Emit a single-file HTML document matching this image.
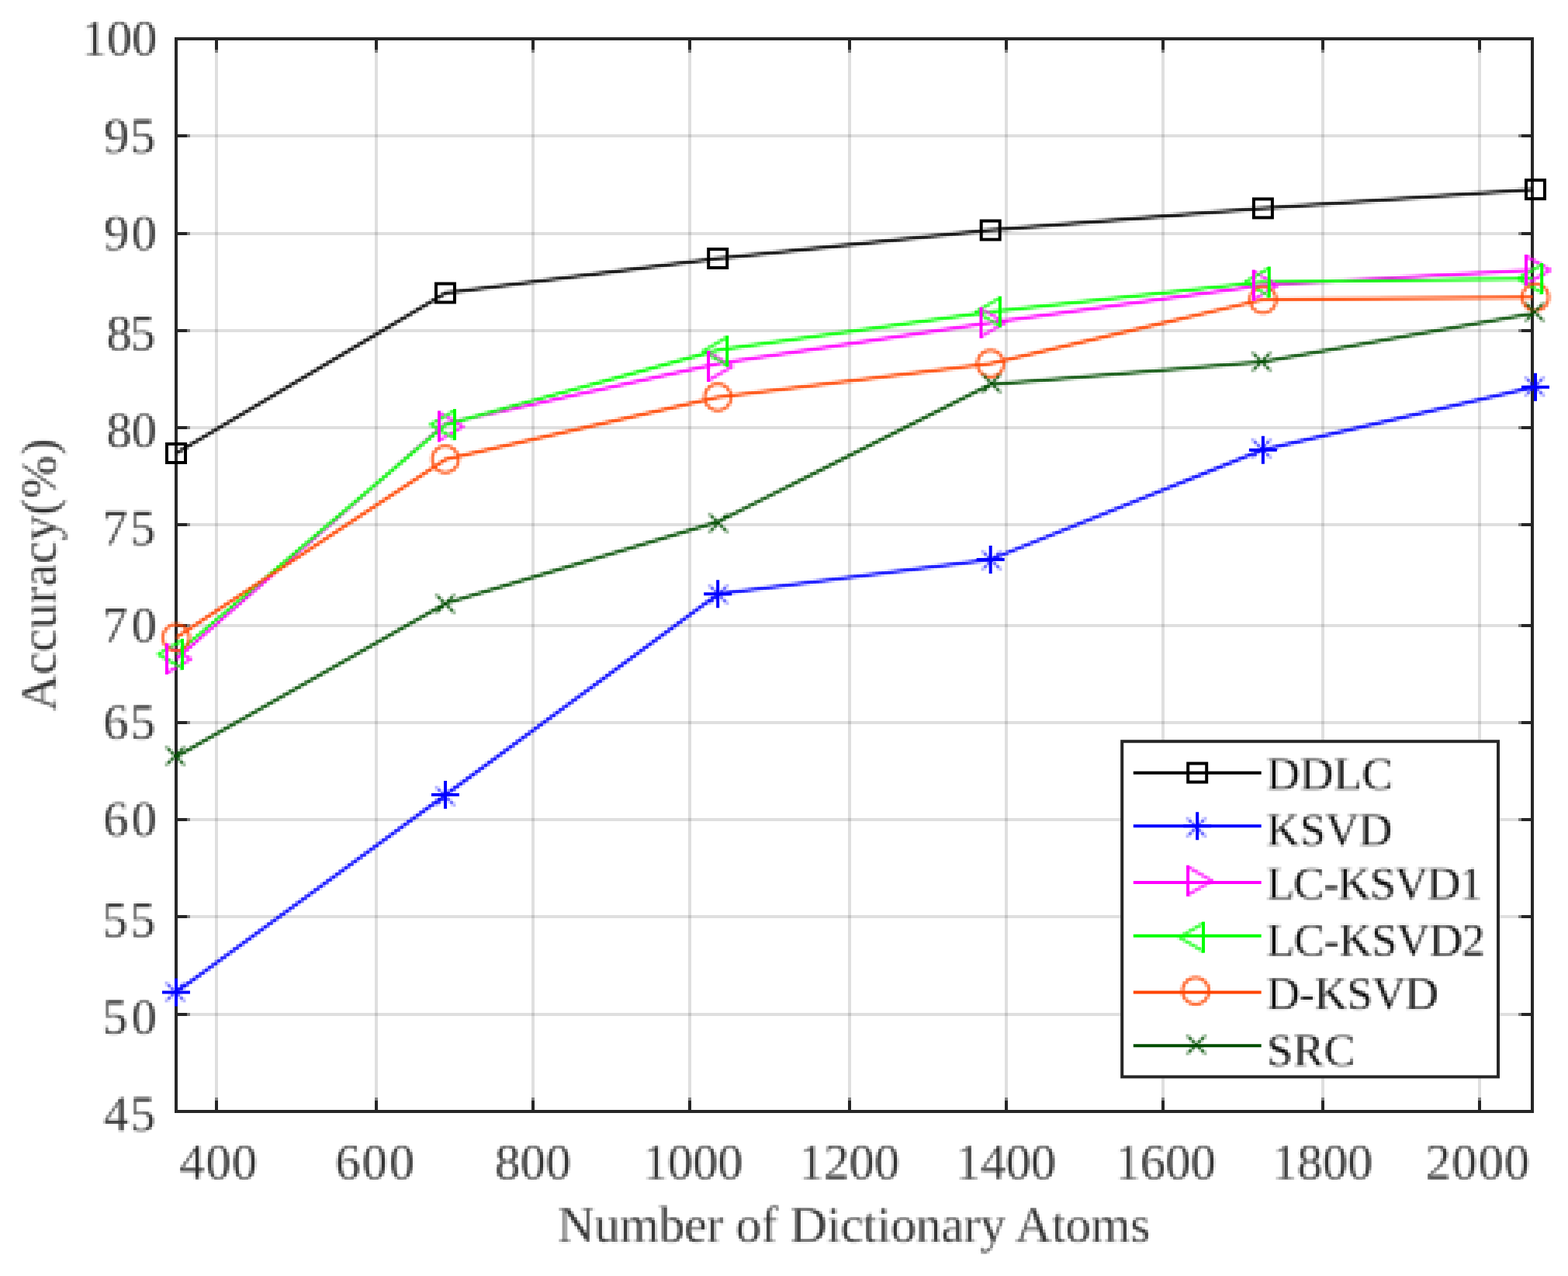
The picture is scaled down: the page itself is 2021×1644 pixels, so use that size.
<!DOCTYPE html>
<html lang="en"><head><meta charset="utf-8"><title>Accuracy vs Number of Dictionary Atoms</title>
<style>
html,body{margin:0;padding:0;background:#fff;}
body{width:2021px;height:1644px;overflow:hidden;}
svg{display:block;font-family:"Liberation Serif","DejaVu Serif",serif;}
.tk{font-size:65px;fill:#262626;}
.lb{font-size:66px;fill:#262626;}
.lg{font-size:60px;fill:#000;}
text{stroke:#fff;stroke-width:1.0px;stroke-opacity:0.75;paint-order:fill stroke;}
</style></head><body>
<svg width="2021" height="1644" viewBox="0 0 2021 1644">
<rect width="2021" height="1644" fill="#fff"/>
<defs><filter id="soft" x="0" y="0" width="2021" height="1644" filterUnits="userSpaceOnUse" color-interpolation-filters="sRGB">
<feGaussianBlur in="SourceGraphic" stdDeviation="1.2" result="b"/>
<feFlood x="1" y="1" width="2" height="2" flood-color="#000" result="f"/>
<feComposite in="f" in2="f" operator="over" x="0" y="0" width="4" height="4" result="cell"/>
<feTile in="cell" x="0" y="0" width="2021" height="1644" result="grid"/>
<feComposite in="b" in2="grid" operator="in" result="samp"/>
<feMorphology in="samp" operator="dilate" radius="1"/>
</filter></defs>
<g stroke="#262626" stroke-opacity="0.15" stroke-width="4">
<line x1="279" y1="52" x2="279" y2="1430"/>
<line x1="485" y1="52" x2="485" y2="1430"/>
<line x1="687" y1="52" x2="687" y2="1430"/>
<line x1="889" y1="52" x2="889" y2="1430"/>
<line x1="1095" y1="52" x2="1095" y2="1430"/>
<line x1="1297" y1="52" x2="1297" y2="1430"/>
<line x1="1499" y1="52" x2="1499" y2="1430"/>
<line x1="1705" y1="52" x2="1705" y2="1430"/>
<line x1="1907" y1="52" x2="1907" y2="1430"/>
<line x1="229" y1="175" x2="1973" y2="175"/>
<line x1="229" y1="301" x2="1973" y2="301"/>
<line x1="229" y1="426" x2="1973" y2="426"/>
<line x1="229" y1="551" x2="1973" y2="551"/>
<line x1="229" y1="676" x2="1973" y2="676"/>
<line x1="229" y1="806" x2="1973" y2="806"/>
<line x1="229" y1="931" x2="1973" y2="931"/>
<line x1="229" y1="1056" x2="1973" y2="1056"/>
<line x1="229" y1="1181" x2="1973" y2="1181"/>
<line x1="229" y1="1307" x2="1973" y2="1307"/>
</g>
<g stroke="#262626" stroke-width="4" fill="none">
<rect x="227" y="50" width="1748" height="1382"/>
<line x1="279" y1="50" x2="279" y2="64"/><line x1="279" y1="1432" x2="279" y2="1418"/>
<line x1="279" y1="64" x2="279" y2="68" stroke="#808080"/><line x1="279" y1="1418" x2="279" y2="1414" stroke="#808080"/>
<line x1="485" y1="50" x2="485" y2="64"/><line x1="485" y1="1432" x2="485" y2="1418"/>
<line x1="485" y1="64" x2="485" y2="68" stroke="#808080"/><line x1="485" y1="1418" x2="485" y2="1414" stroke="#808080"/>
<line x1="687" y1="50" x2="687" y2="64"/><line x1="687" y1="1432" x2="687" y2="1418"/>
<line x1="687" y1="64" x2="687" y2="68" stroke="#808080"/><line x1="687" y1="1418" x2="687" y2="1414" stroke="#808080"/>
<line x1="889" y1="50" x2="889" y2="64"/><line x1="889" y1="1432" x2="889" y2="1418"/>
<line x1="889" y1="64" x2="889" y2="68" stroke="#808080"/><line x1="889" y1="1418" x2="889" y2="1414" stroke="#808080"/>
<line x1="1095" y1="50" x2="1095" y2="64"/><line x1="1095" y1="1432" x2="1095" y2="1418"/>
<line x1="1095" y1="64" x2="1095" y2="68" stroke="#808080"/><line x1="1095" y1="1418" x2="1095" y2="1414" stroke="#808080"/>
<line x1="1297" y1="50" x2="1297" y2="64"/><line x1="1297" y1="1432" x2="1297" y2="1418"/>
<line x1="1297" y1="64" x2="1297" y2="68" stroke="#808080"/><line x1="1297" y1="1418" x2="1297" y2="1414" stroke="#808080"/>
<line x1="1499" y1="50" x2="1499" y2="64"/><line x1="1499" y1="1432" x2="1499" y2="1418"/>
<line x1="1499" y1="64" x2="1499" y2="68" stroke="#808080"/><line x1="1499" y1="1418" x2="1499" y2="1414" stroke="#808080"/>
<line x1="1705" y1="50" x2="1705" y2="64"/><line x1="1705" y1="1432" x2="1705" y2="1418"/>
<line x1="1705" y1="64" x2="1705" y2="68" stroke="#808080"/><line x1="1705" y1="1418" x2="1705" y2="1414" stroke="#808080"/>
<line x1="1907" y1="50" x2="1907" y2="64"/><line x1="1907" y1="1432" x2="1907" y2="1418"/>
<line x1="1907" y1="64" x2="1907" y2="68" stroke="#808080"/><line x1="1907" y1="1418" x2="1907" y2="1414" stroke="#808080"/>
<line x1="227" y1="175" x2="241" y2="175"/><line x1="1975" y1="175" x2="1961" y2="175"/>
<line x1="241" y1="175" x2="245" y2="175" stroke="#808080"/><line x1="1961" y1="175" x2="1957" y2="175" stroke="#808080"/>
<line x1="227" y1="301" x2="241" y2="301"/><line x1="1975" y1="301" x2="1961" y2="301"/>
<line x1="241" y1="301" x2="245" y2="301" stroke="#808080"/><line x1="1961" y1="301" x2="1957" y2="301" stroke="#808080"/>
<line x1="227" y1="426" x2="241" y2="426"/><line x1="1975" y1="426" x2="1961" y2="426"/>
<line x1="241" y1="426" x2="245" y2="426" stroke="#808080"/><line x1="1961" y1="426" x2="1957" y2="426" stroke="#808080"/>
<line x1="227" y1="551" x2="241" y2="551"/><line x1="1975" y1="551" x2="1961" y2="551"/>
<line x1="241" y1="551" x2="245" y2="551" stroke="#808080"/><line x1="1961" y1="551" x2="1957" y2="551" stroke="#808080"/>
<line x1="227" y1="676" x2="241" y2="676"/><line x1="1975" y1="676" x2="1961" y2="676"/>
<line x1="241" y1="676" x2="245" y2="676" stroke="#808080"/><line x1="1961" y1="676" x2="1957" y2="676" stroke="#808080"/>
<line x1="227" y1="806" x2="241" y2="806"/><line x1="1975" y1="806" x2="1961" y2="806"/>
<line x1="241" y1="806" x2="245" y2="806" stroke="#808080"/><line x1="1961" y1="806" x2="1957" y2="806" stroke="#808080"/>
<line x1="227" y1="931" x2="241" y2="931"/><line x1="1975" y1="931" x2="1961" y2="931"/>
<line x1="241" y1="931" x2="245" y2="931" stroke="#808080"/><line x1="1961" y1="931" x2="1957" y2="931" stroke="#808080"/>
<line x1="227" y1="1056" x2="241" y2="1056"/><line x1="1975" y1="1056" x2="1961" y2="1056"/>
<line x1="241" y1="1056" x2="245" y2="1056" stroke="#808080"/><line x1="1961" y1="1056" x2="1957" y2="1056" stroke="#808080"/>
<line x1="227" y1="1181" x2="241" y2="1181"/><line x1="1975" y1="1181" x2="1961" y2="1181"/>
<line x1="241" y1="1181" x2="245" y2="1181" stroke="#808080"/><line x1="1961" y1="1181" x2="1957" y2="1181" stroke="#808080"/>
<line x1="227" y1="1307" x2="241" y2="1307"/><line x1="1975" y1="1307" x2="1961" y2="1307"/>
<line x1="241" y1="1307" x2="245" y2="1307" stroke="#808080"/><line x1="1961" y1="1307" x2="1957" y2="1307" stroke="#808080"/>
</g>
<clipPath id="axclip"><rect x="227" y="50" width="1748" height="1382"/></clipPath>
<g filter="url(#soft)">
<g fill="none" stroke-width="3.5" stroke-linejoin="round" clip-path="url(#axclip)">
<polyline points="227,584 574.5,377.5 925.5,333 1276.5,296.6 1627,268.4 1977,244.1" stroke="#000000"/>
<polyline points="227,1278.4 574.5,1024 925.5,765.3 1276.5,721 1627,579.7 1977,498.7" stroke="#0000ff"/>
<polyline points="227,849 574.5,545.5 925.5,468.5 1276.5,415.7 1627,367.6 1977,348" stroke="#ff00ff"/>
<polyline points="227,843 574.5,547 925.5,451 1276.5,401.8 1627,363.5 1977,359" stroke="#00ff00"/>
<polyline points="227,821.5 574.5,591.8 925.5,511.7 1276.5,468.5 1627,386.1 1977,383" stroke="#ff4500"/>
<polyline points="227,975 574.5,777.4 925.5,672.3 1276.5,495.4 1627,466.2 1977,403.6" stroke="#004d00"/>
</g>
<path d="M214.5 1266.5L237.5 1289.5M214.5 1289.5L237.5 1266.5" stroke="#0000ff" stroke-width="2.4" stroke-opacity="0.8" fill="none"/>
<path d="M562.5 1014.5L585.5 1037.5M562.5 1037.5L585.5 1014.5" stroke="#0000ff" stroke-width="2.4" stroke-opacity="0.8" fill="none"/>
<path d="M914.5 754.5L937.5 777.5M914.5 777.5L937.5 754.5" stroke="#0000ff" stroke-width="2.4" stroke-opacity="0.8" fill="none"/>
<path d="M1266.5 710.5L1289.5 733.5M1266.5 733.5L1289.5 710.5" stroke="#0000ff" stroke-width="2.4" stroke-opacity="0.8" fill="none"/>
<path d="M1614.5 566.5L1637.5 589.5M1614.5 589.5L1637.5 566.5" stroke="#0000ff" stroke-width="2.4" stroke-opacity="0.8" fill="none"/>
<path d="M1966.5 486.5L1989.5 509.5M1966.5 509.5L1989.5 486.5" stroke="#0000ff" stroke-width="2.4" stroke-opacity="0.8" fill="none"/>
<path d="M215.0 831.0L246.0 849.0L215.0 867.0" stroke="#ff00ff" stroke-width="3.2" stroke-opacity="0.85" fill="none" stroke-linejoin="round"/>
<path d="M566.0 531.4L597.0 549.4L566.0 567.4" stroke="#ff00ff" stroke-width="3.2" stroke-opacity="0.85" fill="none" stroke-linejoin="round"/>
<path d="M913.1 454.0L944.1 472.0L913.1 490.0" stroke="#ff00ff" stroke-width="3.2" stroke-opacity="0.85" fill="none" stroke-linejoin="round"/>
<path d="M1264.5 397.7L1295.5 415.7L1264.5 433.7" stroke="#ff00ff" stroke-width="3.2" stroke-opacity="0.85" fill="none" stroke-linejoin="round"/>
<path d="M1615.8 349.6L1646.8 367.6L1615.8 385.6" stroke="#ff00ff" stroke-width="3.2" stroke-opacity="0.85" fill="none" stroke-linejoin="round"/>
<path d="M1967.0 330.0L1998.0 348.0L1967.0 366.0" stroke="#ff00ff" stroke-width="3.2" stroke-opacity="0.85" fill="none" stroke-linejoin="round"/>
<path d="M235.0 825.0L204.0 843.0L235.0 861.0" stroke="#00ff00" stroke-width="3.2" stroke-opacity="0.85" fill="none" stroke-linejoin="round"/>
<path d="M586.0 529.0L555.0 547.0L586.0 565.0" stroke="#00ff00" stroke-width="3.2" stroke-opacity="0.85" fill="none" stroke-linejoin="round"/>
<path d="M937.2 434.5L906.2 452.5L937.2 470.5" stroke="#00ff00" stroke-width="3.2" stroke-opacity="0.85" fill="none" stroke-linejoin="round"/>
<path d="M1288.9 383.8L1257.9 401.8L1288.9 419.8" stroke="#00ff00" stroke-width="3.2" stroke-opacity="0.85" fill="none" stroke-linejoin="round"/>
<path d="M1635.8 345.5L1604.8 363.5L1635.8 381.5" stroke="#00ff00" stroke-width="3.2" stroke-opacity="0.85" fill="none" stroke-linejoin="round"/>
<path d="M1987.2 341.0L1956.2 359.0L1987.2 377.0" stroke="#00ff00" stroke-width="3.2" stroke-opacity="0.85" fill="none" stroke-linejoin="round"/>
<circle cx="227.0" cy="821.5" r="17" stroke="#ff4500" stroke-width="3.4" stroke-opacity="0.85" fill="none"/>
<circle cx="574.0" cy="591.8" r="17" stroke="#ff4500" stroke-width="3.4" stroke-opacity="0.85" fill="none"/>
<circle cx="925.2" cy="511.7" r="17" stroke="#ff4500" stroke-width="3.4" stroke-opacity="0.85" fill="none"/>
<circle cx="1276.7" cy="468.5" r="17" stroke="#ff4500" stroke-width="3.4" stroke-opacity="0.85" fill="none"/>
<circle cx="1627.9" cy="386.1" r="17" stroke="#ff4500" stroke-width="3.4" stroke-opacity="0.85" fill="none"/>
<circle cx="1979.0" cy="383.0" r="17" stroke="#ff4500" stroke-width="3.4" stroke-opacity="0.85" fill="none"/>
<path d="M214.5 962.5L237.5 985.5M214.5 985.5L237.5 962.5" stroke="#004d00" stroke-width="2.6" stroke-opacity="0.95" fill="none"/>
<path d="M562.5 766.5L585.5 789.5M562.5 789.5L585.5 766.5" stroke="#004d00" stroke-width="2.6" stroke-opacity="0.95" fill="none"/>
<path d="M914.5 662.5L937.5 685.5M914.5 685.5L937.5 662.5" stroke="#004d00" stroke-width="2.6" stroke-opacity="0.95" fill="none"/>
<path d="M1266.5 482.5L1289.5 505.5M1266.5 505.5L1289.5 482.5" stroke="#004d00" stroke-width="2.6" stroke-opacity="0.95" fill="none"/>
<path d="M1614.5 454.5L1637.5 477.5M1614.5 477.5L1637.5 454.5" stroke="#004d00" stroke-width="2.6" stroke-opacity="0.95" fill="none"/>
<path d="M1966.5 390.5L1989.5 413.5M1966.5 413.5L1989.5 390.5" stroke="#004d00" stroke-width="2.6" stroke-opacity="0.95" fill="none"/>
</g>
<g>
<rect x="215.0" y="572.0" width="24" height="24" stroke="#000000" stroke-width="4" fill="none"/>
<rect x="562.0" y="365.5" width="24" height="24" stroke="#000000" stroke-width="4" fill="none"/>
<rect x="913.2" y="321.0" width="24" height="24" stroke="#000000" stroke-width="4" fill="none"/>
<rect x="1264.7" y="284.6" width="24" height="24" stroke="#000000" stroke-width="4" fill="none"/>
<rect x="1615.9" y="256.4" width="24" height="24" stroke="#000000" stroke-width="4" fill="none"/>
<rect x="1967.0" y="232.1" width="24" height="24" stroke="#000000" stroke-width="4" fill="none"/>
<path d="M209.0 1278.4H245.0M227.0 1260.4V1296.4" stroke="#0000ff" stroke-width="4" fill="none"/>
<path d="M556.0 1024.0H592.0M574.0 1006.0V1042.0" stroke="#0000ff" stroke-width="4" fill="none"/>
<path d="M907.2 765.3H943.2M925.2 747.3V783.3" stroke="#0000ff" stroke-width="4" fill="none"/>
<path d="M1258.7 721.0H1294.7M1276.7 703.0V739.0" stroke="#0000ff" stroke-width="4" fill="none"/>
<path d="M1609.9 579.7H1645.9M1627.9 561.7V597.7" stroke="#0000ff" stroke-width="4" fill="none"/>
<path d="M1961.0 498.7H1997.0M1979.0 480.7V516.7" stroke="#0000ff" stroke-width="4" fill="none"/>
<path d="M215.0 831.0V867.0" stroke="#ff00ff" stroke-width="4" fill="none" stroke-linecap="square"/>
<path d="M566.0 531.4V567.4" stroke="#ff00ff" stroke-width="4" fill="none" stroke-linecap="square"/>
<path d="M913.1 454.0V490.0" stroke="#ff00ff" stroke-width="4" fill="none" stroke-linecap="square"/>
<path d="M1264.5 397.7V433.7" stroke="#ff00ff" stroke-width="4" fill="none" stroke-linecap="square"/>
<path d="M1615.8 349.6V385.6" stroke="#ff00ff" stroke-width="4" fill="none" stroke-linecap="square"/>
<path d="M1967.0 330.0V366.0" stroke="#ff00ff" stroke-width="4" fill="none" stroke-linecap="square"/>
<path d="M235.0 825.0V861.0" stroke="#00ff00" stroke-width="4" fill="none" stroke-linecap="square"/>
<path d="M586.0 529.0V565.0" stroke="#00ff00" stroke-width="4" fill="none" stroke-linecap="square"/>
<path d="M937.2 434.5V470.5" stroke="#00ff00" stroke-width="4" fill="none" stroke-linecap="square"/>
<path d="M1288.9 383.8V419.8" stroke="#00ff00" stroke-width="4" fill="none" stroke-linecap="square"/>
<path d="M1635.8 345.5V381.5" stroke="#00ff00" stroke-width="4" fill="none" stroke-linecap="square"/>
<path d="M1987.2 341.0V377.0" stroke="#00ff00" stroke-width="4" fill="none" stroke-linecap="square"/>
</g>
<rect x="1446.2" y="955.2" width="484.79999999999995" height="432.20000000000005" fill="#fff" stroke="#262626" stroke-width="4"/>
<line x1="1460.8" y1="995.8" x2="1625.7" y2="995.8" stroke="#000000" stroke-width="4"/>
<rect x="1531.2" y="983.6" width="24" height="24" stroke="#000000" stroke-width="4" fill="none"/>
<line x1="1460.8" y1="1064.2" x2="1625.7" y2="1064.2" stroke="#0000ff" stroke-width="4"/>
<path d="M1525.2 1064.3H1561.2M1543.2 1046.3V1082.3" stroke="#0000ff" stroke-width="4" fill="none"/>
<line x1="1460.8" y1="1137.1" x2="1625.7" y2="1137.1" stroke="#ff00ff" stroke-width="4"/>
<path d="M1531.1 1116.8V1152.8" stroke="#ff00ff" stroke-width="4" fill="none" stroke-linecap="square"/>
<line x1="1460.8" y1="1205.7" x2="1625.7" y2="1205.7" stroke="#00ff00" stroke-width="4"/>
<path d="M1551.0 1189.6V1225.6" stroke="#00ff00" stroke-width="4" fill="none" stroke-linecap="square"/>
<line x1="1460.8" y1="1278.4" x2="1625.7" y2="1278.4" stroke="#ff4500" stroke-width="4"/>
<line x1="1460.8" y1="1347.3" x2="1625.7" y2="1347.3" stroke="#004d00" stroke-width="4"/>
<g filter="url(#soft)">
<path d="M1530.5 1054.5L1553.5 1077.5M1530.5 1077.5L1553.5 1054.5" stroke="#0000ff" stroke-width="2.4" stroke-opacity="0.8" fill="none"/>
<path d="M1531.1 1116.8L1562.1 1134.8L1531.1 1152.8" stroke="#ff00ff" stroke-width="3.2" stroke-opacity="0.85" fill="none" stroke-linejoin="round"/>
<path d="M1551.0 1189.6L1520.0 1207.6L1551.0 1225.6" stroke="#00ff00" stroke-width="3.2" stroke-opacity="0.85" fill="none" stroke-linejoin="round"/>
<circle cx="1541.1" cy="1276.7" r="17" stroke="#ff4500" stroke-width="3.4" stroke-opacity="0.85" fill="none"/>
<path d="M1530.5 1334.5L1553.5 1357.5M1530.5 1357.5L1553.5 1334.5" stroke="#004d00" stroke-width="2.6" stroke-opacity="0.95" fill="none"/>
<text class="tk" x="105.20" y="71.40" letter-spacing="-0.050">100</text>
<text class="tk" x="134.00" y="196.90" letter-spacing="1.300">95</text>
<text class="tk" x="134.00" y="321.70" letter-spacing="3.100">90</text>
<text class="tk" x="137.30" y="451.10" letter-spacing="-2.000">85</text>
<text class="tk" x="137.30" y="576.40" letter-spacing="-0.200">80</text>
<text class="tk" x="132.00" y="701.80" letter-spacing="3.300">75</text>
<text class="tk" x="132.00" y="826.90" letter-spacing="5.100">70</text>
<text class="tk" x="133.00" y="951.90" letter-spacing="2.300">65</text>
<text class="tk" x="133.00" y="1077.20" letter-spacing="4.100">60</text>
<text class="tk" x="132.00" y="1206.90" letter-spacing="3.300">55</text>
<text class="tk" x="132.00" y="1331.90" letter-spacing="5.100">50</text>
<text class="tk" x="133.50" y="1457.20" letter-spacing="1.800">45</text>
<text class="tk" x="231.30" y="1518.50" letter-spacing="1.400">400</text>
<text class="tk" x="431.90" y="1518.50" letter-spacing="2.450">600</text>
<text class="tk" x="638.00" y="1518.50" letter-spacing="0.250">800</text>
<text class="tk" x="828.40" y="1518.50" letter-spacing="-0.300">1000</text>
<text class="tk" x="1029.60" y="1518.50" letter-spacing="0.000">1200</text>
<text class="tk" x="1231.80" y="1518.50" letter-spacing="-0.300">1400</text>
<text class="tk" x="1437.40" y="1518.50" letter-spacing="-0.067">1600</text>
<text class="tk" x="1639.80" y="1518.50" letter-spacing="-0.200">1800</text>
<text class="tk" x="1837.40" y="1518.50" letter-spacing="1.400">2000</text>
<text class="lb" x="718.80" y="1599.70" letter-spacing="-0.472">Number of Dictionary Atoms</text>
<text class="lg" x="1632.30" y="1016.60" letter-spacing="-0.033">DDLC</text>
<text class="lg" x="1632.30" y="1089.40" letter-spacing="-0.367">KSVD</text>
<text class="lg" x="1632.30" y="1157.70" letter-spacing="-1.629">LC-KSVD1</text>
<text class="lg" x="1632.30" y="1230.60" letter-spacing="-1.186">LC-KSVD2</text>
<text class="lg" x="1632.30" y="1299.80" letter-spacing="-0.980">D-KSVD</text>
<text class="lg" x="1633.00" y="1372.60" letter-spacing="0.200">SRC</text>
<text class="lb" text-anchor="middle" transform="translate(72,741) rotate(-90)">Accuracy(%)</text>
</g>
</svg></body></html>
